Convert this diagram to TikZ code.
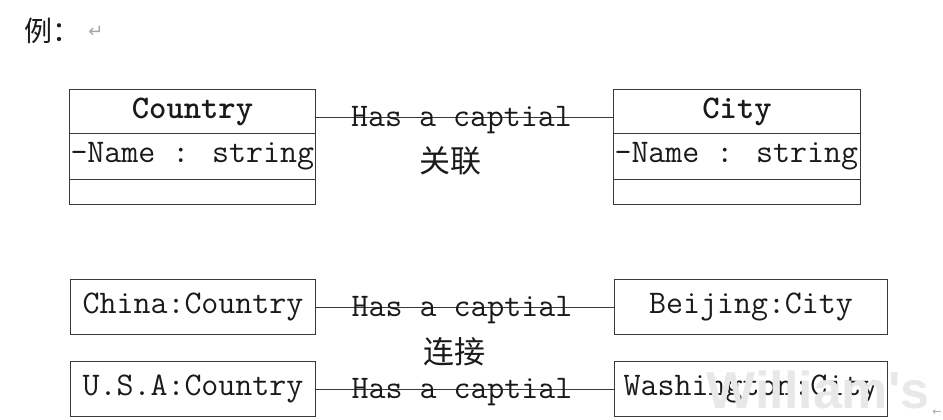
\documentclass[tikz,border=0pt]{standalone}
\usepackage{fontspec}
\newfontfamily\cjkf{Noto Sans CJK SC}
\newfontfamily\symf{DejaVu Sans}
\newfontfamily\wmf{Liberation Sans}
\newcommand\monof{\ttfamily}
\definecolor{lc}{HTML}{3A3A3A}
\definecolor{tc}{HTML}{1A1A1A}
\begin{document}
\begin{tikzpicture}[x=1pt,y=-1pt,line width=1pt,
  box/.style={draw=lc,inner sep=0pt,anchor=north west,text=tc,
    font=\monof\fontsize{33}{36}\selectfont},
  txt/.style={inner sep=0pt,text=tc,font=\monof\fontsize{33}{36}\selectfont},
  conn/.style={draw=lc,line width=1pt},
  rel/.style={inner sep=0pt,anchor=base,yshift=-9pt,xshift=-3pt,text=tc,
    font=\monof\fontsize{33}{36}\selectfont},
  cn/.style={inner sep=0pt,text=tc,font=\cjkf\fontsize{31}{34}\selectfont}]
\useasboundingbox (0,0) rectangle (943,420);
% heading
\node[cn,anchor=west,font=\cjkf\fontsize{28}{30}\selectfont] (title) at (24,31) {例：};
\node[inner sep=0pt,text=gray!70,font=\symf\fontsize{18}{20}\selectfont] (ret) at (96,32) {↵};
% class Country
\node[box,minimum width=246pt,minimum height=44pt] (ctyH) at (69,89) {};
\node[box,minimum width=246pt,minimum height=46pt] (ctyA) at (69,133) {};
\node[box,minimum width=246pt,minimum height=25pt] (ctyO) at (69,179) {};
\node[txt,font=\monof\bfseries\fontsize{33}{36}\selectfont] (ctyT) at (ctyH.center) {Country};
\node[txt,anchor=west] (ctyN) at ([xshift=1pt]ctyA.west) {-Name : string};
% class City
\node[box,minimum width=247pt,minimum height=44pt] (cityH) at (613,89) {};
\node[box,minimum width=247pt,minimum height=46pt] (cityA) at (613,133) {};
\node[box,minimum width=247pt,minimum height=25pt] (cityO) at (613,179) {};
\node[txt,font=\monof\bfseries\fontsize{33}{36}\selectfont] (cityT) at (cityH.center) {City};
\node[txt,anchor=west] (cityN) at ([xshift=1pt]cityA.west) {-Name : string};
% association
\draw[conn] ([yshift=-6pt]ctyH.east) -- ([yshift=-6pt]cityH.west)
  node[rel,midway] (r1) {Has a captial};
\node[cn] (gl) at (450,161) {关联};
% objects
\node[box,minimum width=245pt,minimum height=55pt] (china) at (70,279) {China:Country};
\node[box,minimum width=245pt,minimum height=55pt] (usa) at (70,361) {U.S.A:Country};
\node[box,minimum width=273pt,minimum height=55pt] (beijing) at (614,279) {Beijing:City};
\node[box,minimum width=273pt,minimum height=55pt] (wash) at (614,361) {Washington:City};
\draw[conn] (china.east) -- (beijing.west) node[rel,midway] (r2) {Has a captial};
\draw[conn] (usa.east) -- (wash.west) node[rel,midway] (r3) {Has a captial};
\node[cn] (lj) at (454,352) {连接};
% watermark and mark
\node[inner sep=0pt,text=gray!18,font=\wmf\bfseries\fontsize{52}{56}\selectfont] (wm) at (818,390) {William's};
\node[inner sep=0pt,text=gray!70,font=\symf\fontsize{11}{13}\selectfont] (arr) at (937,413) {←};
\end{tikzpicture}
\end{document}
